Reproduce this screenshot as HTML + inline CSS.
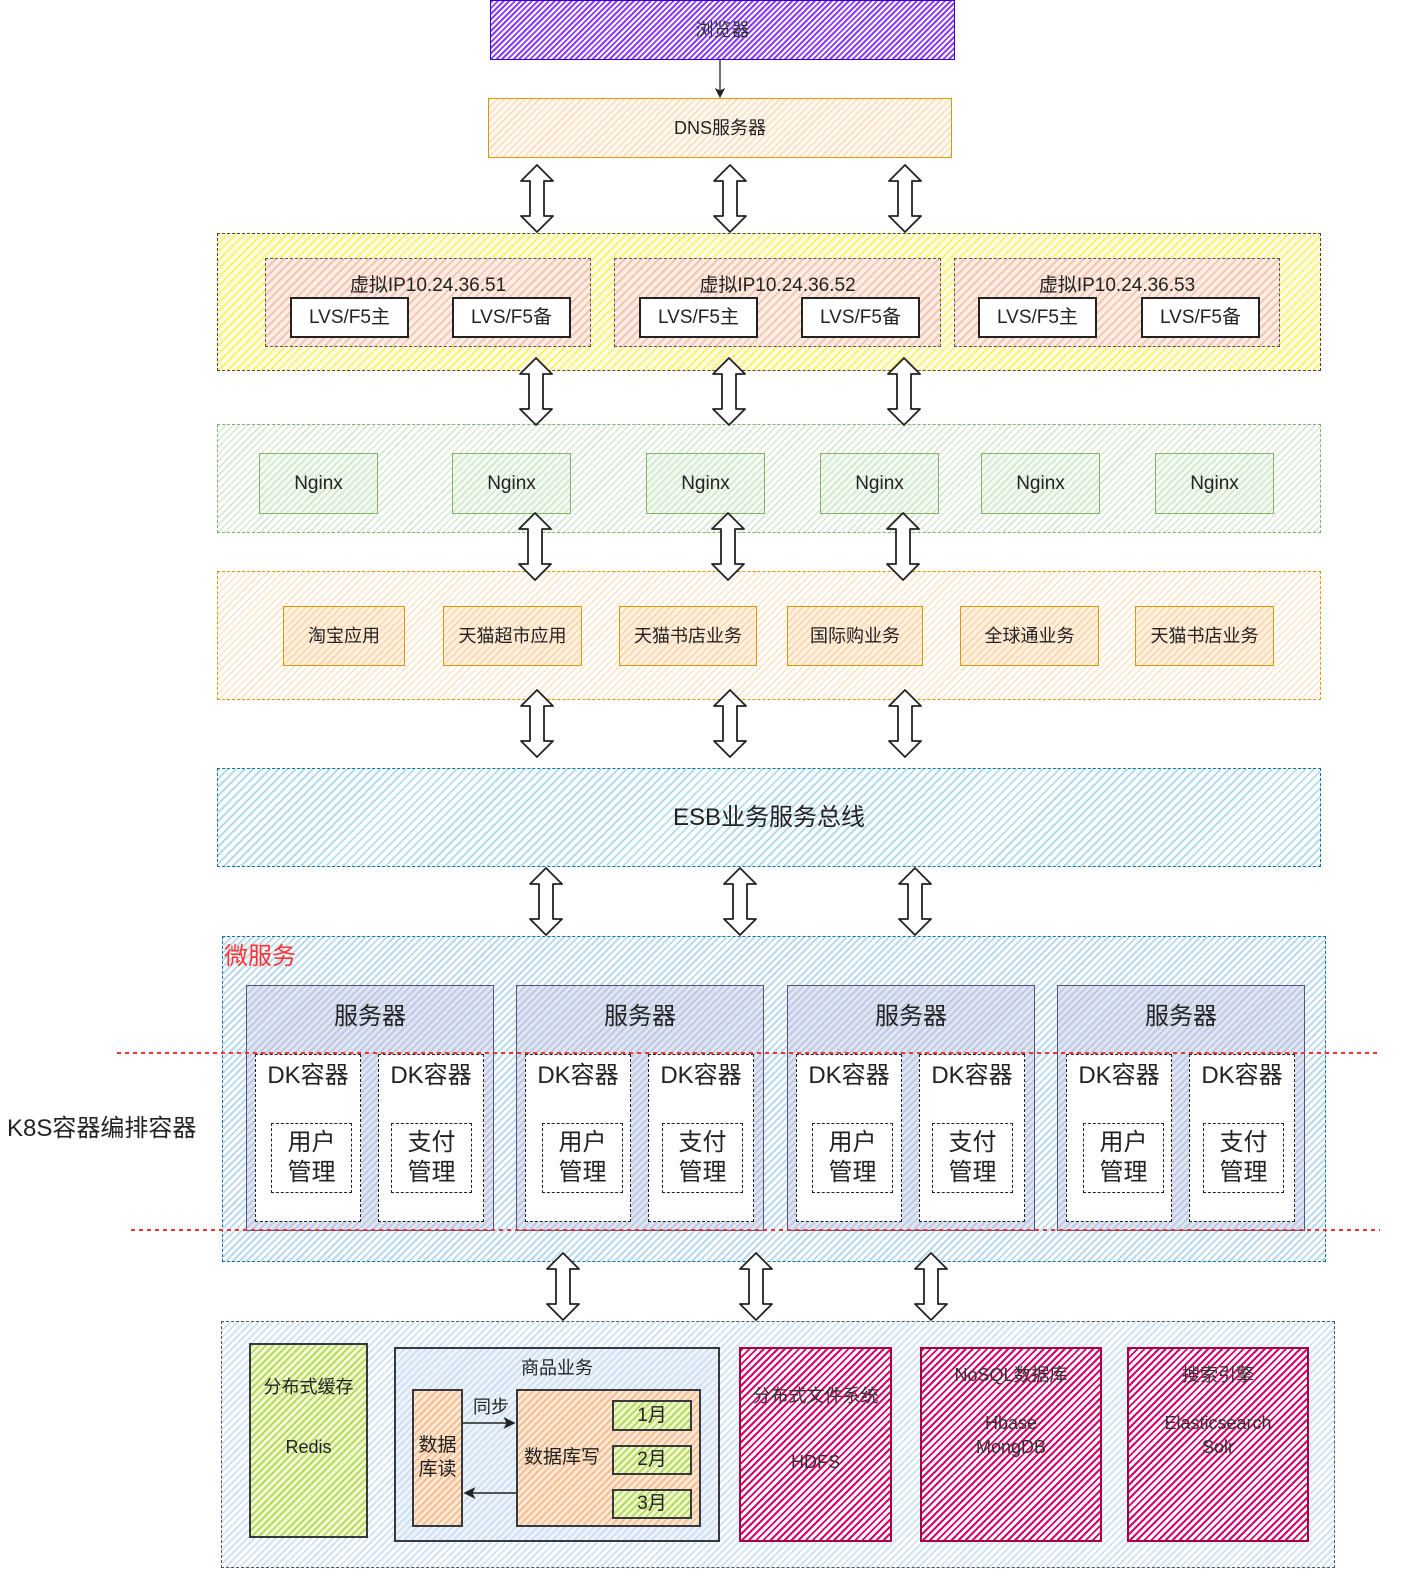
<!DOCTYPE html>
<html style="overflow:hidden"><head><meta charset="utf-8"><style>
*{margin:0;padding:0}
html,body{width:1404px;height:1592px;overflow:hidden}
body{position:relative;background:#fff;font-family:"Liberation Sans","Noto Sans CJK SC",sans-serif;color:#222}
.b{position:absolute;box-sizing:border-box;display:flex;align-items:center;justify-content:center;text-align:center;line-height:1.25}
.t{position:absolute;white-space:nowrap}
.purple{background:repeating-linear-gradient(135deg,#8a3cff 0 2px,#fff 2px 4px);border:1.5px solid #3700cc}
.orange{background:repeating-linear-gradient(135deg,#fbdcbc 0 1.5px,#fff8f0 1.5px 5px);border:1.5px solid #d79b00}
.yellow{background:repeating-linear-gradient(135deg,#fff176 0 2px,#fffde0 2px 6px);border:1.5px dashed #444}
.pink{background:repeating-linear-gradient(135deg,#f5c3b8 0 2px,#fbeee0 2px 6px);border:1.5px dashed #555}
.green{background:repeating-linear-gradient(135deg,#d5e8d4 0 1.5px,#fff 1.5px 5px);border:1.5px dashed #82b366}
.gbox{background:repeating-linear-gradient(135deg,#cfe6c9 0 1.5px,#f3faf2 1.5px 5px);border:1.5px solid #82b366}
.oapp{background:repeating-linear-gradient(135deg,#fbd4a8 0 1.5px,#fff0e0 1.5px 5px);border:1.5px solid #d79b00}
.odash{background:repeating-linear-gradient(135deg,#fde3c8 0 1.5px,#fff 1.5px 5px);border:1.5px dashed #d79b00}
.cyan{background:repeating-linear-gradient(135deg,#b1ddf0 0 2px,#fff 2px 6px);border:1.5px dashed #10739e}
.blue{background:repeating-linear-gradient(135deg,#b9d9f0 0 2px,#fff 2px 5px);border:1.5px dashed #10739e}
.lblue{background:repeating-linear-gradient(135deg,#cfe2f7 0 2px,#fff 2px 5px);border:1.5px dashed #555}
.srv{background:repeating-linear-gradient(135deg,#c2c8e2 0 2px,#dde6f3 2px 5px);border:1.5px solid #56517e}
.dk{background:#fff;border:1.5px dashed #222}
.lime{background:repeating-linear-gradient(135deg,#b7dc5a 0 2px,#f2f9d8 2px 5px);border:2px solid #36393d}
.bizb{background:repeating-linear-gradient(135deg,#cfe0f3 0 2px,#eef4fb 2px 5px);border:2px solid #36393d}
.ofill{background:repeating-linear-gradient(135deg,#f7be90 0 2px,#fde8d6 2px 5px);border:2px solid #36393d}
.mon{background:repeating-linear-gradient(135deg,#b7dc5a 0 2px,#eef7d2 2px 5px);border:2px solid #36393d}
.mag{background:repeating-linear-gradient(135deg,#d6006e 0 2px,#fff 2px 5px);border:2px solid #a50040;align-items:flex-start;padding-top:14px}
.lvs{background:#fff;border:2px solid #222;font-size:19px}
</style></head><body>

<div class="b purple" style="left:490px;top:0;width:465px;height:60px;font-size:18px;color:#333">浏览器</div>
<div class="b orange" style="left:488px;top:98px;width:464px;height:60px;font-size:18px">DNS服务器</div>

<div class="b yellow" style="left:217px;top:233px;width:1104px;height:138px"></div>
<div class="b pink" style="left:265px;top:258px;width:326px;height:89px"></div>
<div class="b pink" style="left:614px;top:258px;width:327px;height:89px"></div>
<div class="b pink" style="left:954px;top:258px;width:326px;height:89px"></div>
<div class="t" style="left:265px;width:326px;top:270px;text-align:center;font-size:19px">虚拟IP10.24.36.51</div>
<div class="t" style="left:614px;width:327px;top:270px;text-align:center;font-size:19px">虚拟IP10.24.36.52</div>
<div class="t" style="left:954px;width:326px;top:270px;text-align:center;font-size:19px">虚拟IP10.24.36.53</div>
<div class="b lvs" style="left:290px;top:297px;width:119px;height:41px">LVS/F5主</div>
<div class="b lvs" style="left:452px;top:297px;width:119px;height:41px">LVS/F5备</div>
<div class="b lvs" style="left:639px;top:297px;width:119px;height:41px">LVS/F5主</div>
<div class="b lvs" style="left:801px;top:297px;width:119px;height:41px">LVS/F5备</div>
<div class="b lvs" style="left:978px;top:297px;width:119px;height:41px">LVS/F5主</div>
<div class="b lvs" style="left:1141px;top:297px;width:119px;height:41px">LVS/F5备</div>

<div class="b green" style="left:217px;top:424px;width:1104px;height:109px"></div>
<div class="b gbox" style="left:259px;top:453px;width:119px;height:61px;font-size:19px">Nginx</div>
<div class="b gbox" style="left:452px;top:453px;width:119px;height:61px;font-size:19px">Nginx</div>
<div class="b gbox" style="left:646px;top:453px;width:119px;height:61px;font-size:19px">Nginx</div>
<div class="b gbox" style="left:820px;top:453px;width:119px;height:61px;font-size:19px">Nginx</div>
<div class="b gbox" style="left:981px;top:453px;width:119px;height:61px;font-size:19px">Nginx</div>
<div class="b gbox" style="left:1155px;top:453px;width:119px;height:61px;font-size:19px">Nginx</div>

<div class="b odash" style="left:217px;top:571px;width:1104px;height:129px"></div>
<div class="b oapp" style="left:283px;top:606px;width:122px;height:60px;font-size:18px">淘宝应用</div>
<div class="b oapp" style="left:443px;top:606px;width:139px;height:60px;font-size:18px">天猫超市应用</div>
<div class="b oapp" style="left:619px;top:606px;width:138px;height:60px;font-size:18px">天猫书店业务</div>
<div class="b oapp" style="left:787px;top:606px;width:136px;height:60px;font-size:18px">国际购业务</div>
<div class="b oapp" style="left:960px;top:606px;width:139px;height:60px;font-size:18px">全球通业务</div>
<div class="b oapp" style="left:1135px;top:606px;width:139px;height:60px;font-size:18px">天猫书店业务</div>

<div class="b cyan" style="left:217px;top:768px;width:1104px;height:99px;font-size:24px">ESB业务服务总线</div>

<div class="b blue" style="left:222px;top:936px;width:1104px;height:326px"></div>
<div class="t" style="left:224px;top:936px;font-size:24px;color:#ff3333">微服务</div>

<div class="b srv" style="left:246px;top:985px;width:248px;height:246px;align-items:flex-start;padding-top:16px;font-size:24px">服务器</div>
<div class="b srv" style="left:516px;top:985px;width:248px;height:246px;align-items:flex-start;padding-top:16px;font-size:24px">服务器</div>
<div class="b srv" style="left:787px;top:985px;width:248px;height:246px;align-items:flex-start;padding-top:16px;font-size:24px">服务器</div>
<div class="b srv" style="left:1057px;top:985px;width:248px;height:246px;align-items:flex-start;padding-top:16px;font-size:24px">服务器</div>

<div class="b dk" style="left:255px;top:1054px;width:106px;height:168px;align-items:flex-start;padding-top:6px;font-size:24px">DK容器</div>
<div class="b dk" style="left:378px;top:1054px;width:106px;height:168px;align-items:flex-start;padding-top:6px;font-size:24px">DK容器</div>
<div class="b dk" style="left:525px;top:1054px;width:106px;height:168px;align-items:flex-start;padding-top:6px;font-size:24px">DK容器</div>
<div class="b dk" style="left:648px;top:1054px;width:106px;height:168px;align-items:flex-start;padding-top:6px;font-size:24px">DK容器</div>
<div class="b dk" style="left:796px;top:1054px;width:106px;height:168px;align-items:flex-start;padding-top:6px;font-size:24px">DK容器</div>
<div class="b dk" style="left:919px;top:1054px;width:106px;height:168px;align-items:flex-start;padding-top:6px;font-size:24px">DK容器</div>
<div class="b dk" style="left:1066px;top:1054px;width:106px;height:168px;align-items:flex-start;padding-top:6px;font-size:24px">DK容器</div>
<div class="b dk" style="left:1189px;top:1054px;width:106px;height:168px;align-items:flex-start;padding-top:6px;font-size:24px">DK容器</div>

<div class="b dk" style="left:271px;top:1123px;width:81px;height:70px;font-size:24px;line-height:30px">用户<br>管理</div>
<div class="b dk" style="left:391px;top:1123px;width:81px;height:70px;font-size:24px;line-height:30px">支付<br>管理</div>
<div class="b dk" style="left:542px;top:1123px;width:81px;height:70px;font-size:24px;line-height:30px">用户<br>管理</div>
<div class="b dk" style="left:662px;top:1123px;width:81px;height:70px;font-size:24px;line-height:30px">支付<br>管理</div>
<div class="b dk" style="left:812px;top:1123px;width:81px;height:70px;font-size:24px;line-height:30px">用户<br>管理</div>
<div class="b dk" style="left:932px;top:1123px;width:81px;height:70px;font-size:24px;line-height:30px">支付<br>管理</div>
<div class="b dk" style="left:1083px;top:1123px;width:81px;height:70px;font-size:24px;line-height:30px">用户<br>管理</div>
<div class="b dk" style="left:1203px;top:1123px;width:81px;height:70px;font-size:24px;line-height:30px">支付<br>管理</div>

<div class="t" style="left:7px;top:1108px;font-size:24px">K8S容器编排容器</div>

<div class="b lblue" style="left:221px;top:1321px;width:1114px;height:247px"></div>
<div class="b lime" style="left:249px;top:1343px;width:119px;height:195px;align-items:flex-start;padding-top:12px;font-size:18px;line-height:60px">分布式缓存<br>Redis</div>
<div class="b bizb" style="left:394px;top:1347px;width:326px;height:195px;align-items:flex-start;padding-top:8px;font-size:18px">商品业务</div>
<div class="b ofill" style="left:412px;top:1389px;width:51px;height:138px;font-size:19px">数据<br>库读</div>
<div class="b ofill" style="left:516px;top:1389px;width:185px;height:138px;justify-content:flex-start;padding-left:6px;font-size:19px">数据库写</div>
<div class="b mon" style="left:612px;top:1400px;width:80px;height:31px;font-size:19px">1月</div>
<div class="b mon" style="left:612px;top:1445px;width:80px;height:30px;font-size:19px">2月</div>
<div class="b mon" style="left:612px;top:1489px;width:80px;height:30px;font-size:19px">3月</div>
<div class="t" style="left:473px;top:1393px;font-size:18px">同步</div>

<div class="b mag" style="left:739px;top:1347px;width:153px;height:195px;font-size:18px;line-height:66px;color:#333">分布式文件系统<br>HDFS</div>
<div class="b mag" style="left:920px;top:1347px;width:182px;height:195px;font-size:18px;color:#333;line-height:24px">NoSQL数据库<br><br>Hbase<br>MongDB</div>
<div class="b mag" style="left:1127px;top:1347px;width:182px;height:195px;font-size:18px;color:#333;line-height:24px">搜索引擎<br><br>Elasticsearch<br>Solr</div>

<svg width="1404" height="1592" style="position:absolute;left:0;top:0" xmlns="http://www.w3.org/2000/svg">
<defs><marker id="a" markerWidth="8" markerHeight="8" refX="7" refY="4" orient="auto"><path d="M0,0 L8,4 L0,8 L2,4 z" fill="#222"/></marker></defs>
<line x1="720" y1="60" x2="720" y2="97" stroke="#222" stroke-width="1.3" marker-end="url(#a)"/>
<line x1="463" y1="1423" x2="514" y2="1423" stroke="#222" stroke-width="1.5" marker-end="url(#a)"/>
<line x1="516" y1="1493" x2="465" y2="1493" stroke="#222" stroke-width="1.5" marker-end="url(#a)"/>
<line x1="117" y1="1053" x2="1380" y2="1053" stroke="#e33" stroke-width="2" stroke-dasharray="4 4"/>
<line x1="131" y1="1230" x2="1380" y2="1230" stroke="#e33" stroke-width="2" stroke-dasharray="4 4"/>
<g fill="#fff" stroke="#222" stroke-width="1.8" stroke-linejoin="round">
<polygon points="537,165 553,181 544,181 544,216 553,216 537,232 521,216 530,216 530,181 521,181"/>
<polygon points="730,165 746,181 737,181 737,216 746,216 730,232 714,216 723,216 723,181 714,181"/>
<polygon points="905,165 921,181 912,181 912,216 921,216 905,232 889,216 898,216 898,181 889,181"/>
<polygon points="536,358 552,374 543,374 543,409 552,409 536,425 520,409 529,409 529,374 520,374"/>
<polygon points="729,358 745,374 736,374 736,409 745,409 729,425 713,409 722,409 722,374 713,374"/>
<polygon points="904,358 920,374 911,374 911,409 920,409 904,425 888,409 897,409 897,374 888,374"/>
<polygon points="535,513 551,529 542,529 542,564 551,564 535,580 519,564 528,564 528,529 519,529"/>
<polygon points="728,513 744,529 735,529 735,564 744,564 728,580 712,564 721,564 721,529 712,529"/>
<polygon points="903,513 919,529 910,529 910,564 919,564 903,580 887,564 896,564 896,529 887,529"/>
<polygon points="537,690 553,706 544,706 544,741 553,741 537,757 521,741 530,741 530,706 521,706"/>
<polygon points="730,690 746,706 737,706 737,741 746,741 730,757 714,741 723,741 723,706 714,706"/>
<polygon points="905,690 921,706 912,706 912,741 921,741 905,757 889,741 898,741 898,706 889,706"/>
<polygon points="546,868 562,884 553,884 553,919 562,919 546,935 530,919 539,919 539,884 530,884"/>
<polygon points="740,868 756,884 747,884 747,919 756,919 740,935 724,919 733,919 733,884 724,884"/>
<polygon points="915,868 931,884 922,884 922,919 931,919 915,935 899,919 908,919 908,884 899,884"/>
<polygon points="563,1253 579,1269 570,1269 570,1304 579,1304 563,1320 547,1304 556,1304 556,1269 547,1269"/>
<polygon points="756,1253 772,1269 763,1269 763,1304 772,1304 756,1320 740,1304 749,1304 749,1269 740,1269"/>
<polygon points="931,1253 947,1269 938,1269 938,1304 947,1304 931,1320 915,1304 924,1304 924,1269 915,1269"/>
</g>
</svg>
</body></html>
